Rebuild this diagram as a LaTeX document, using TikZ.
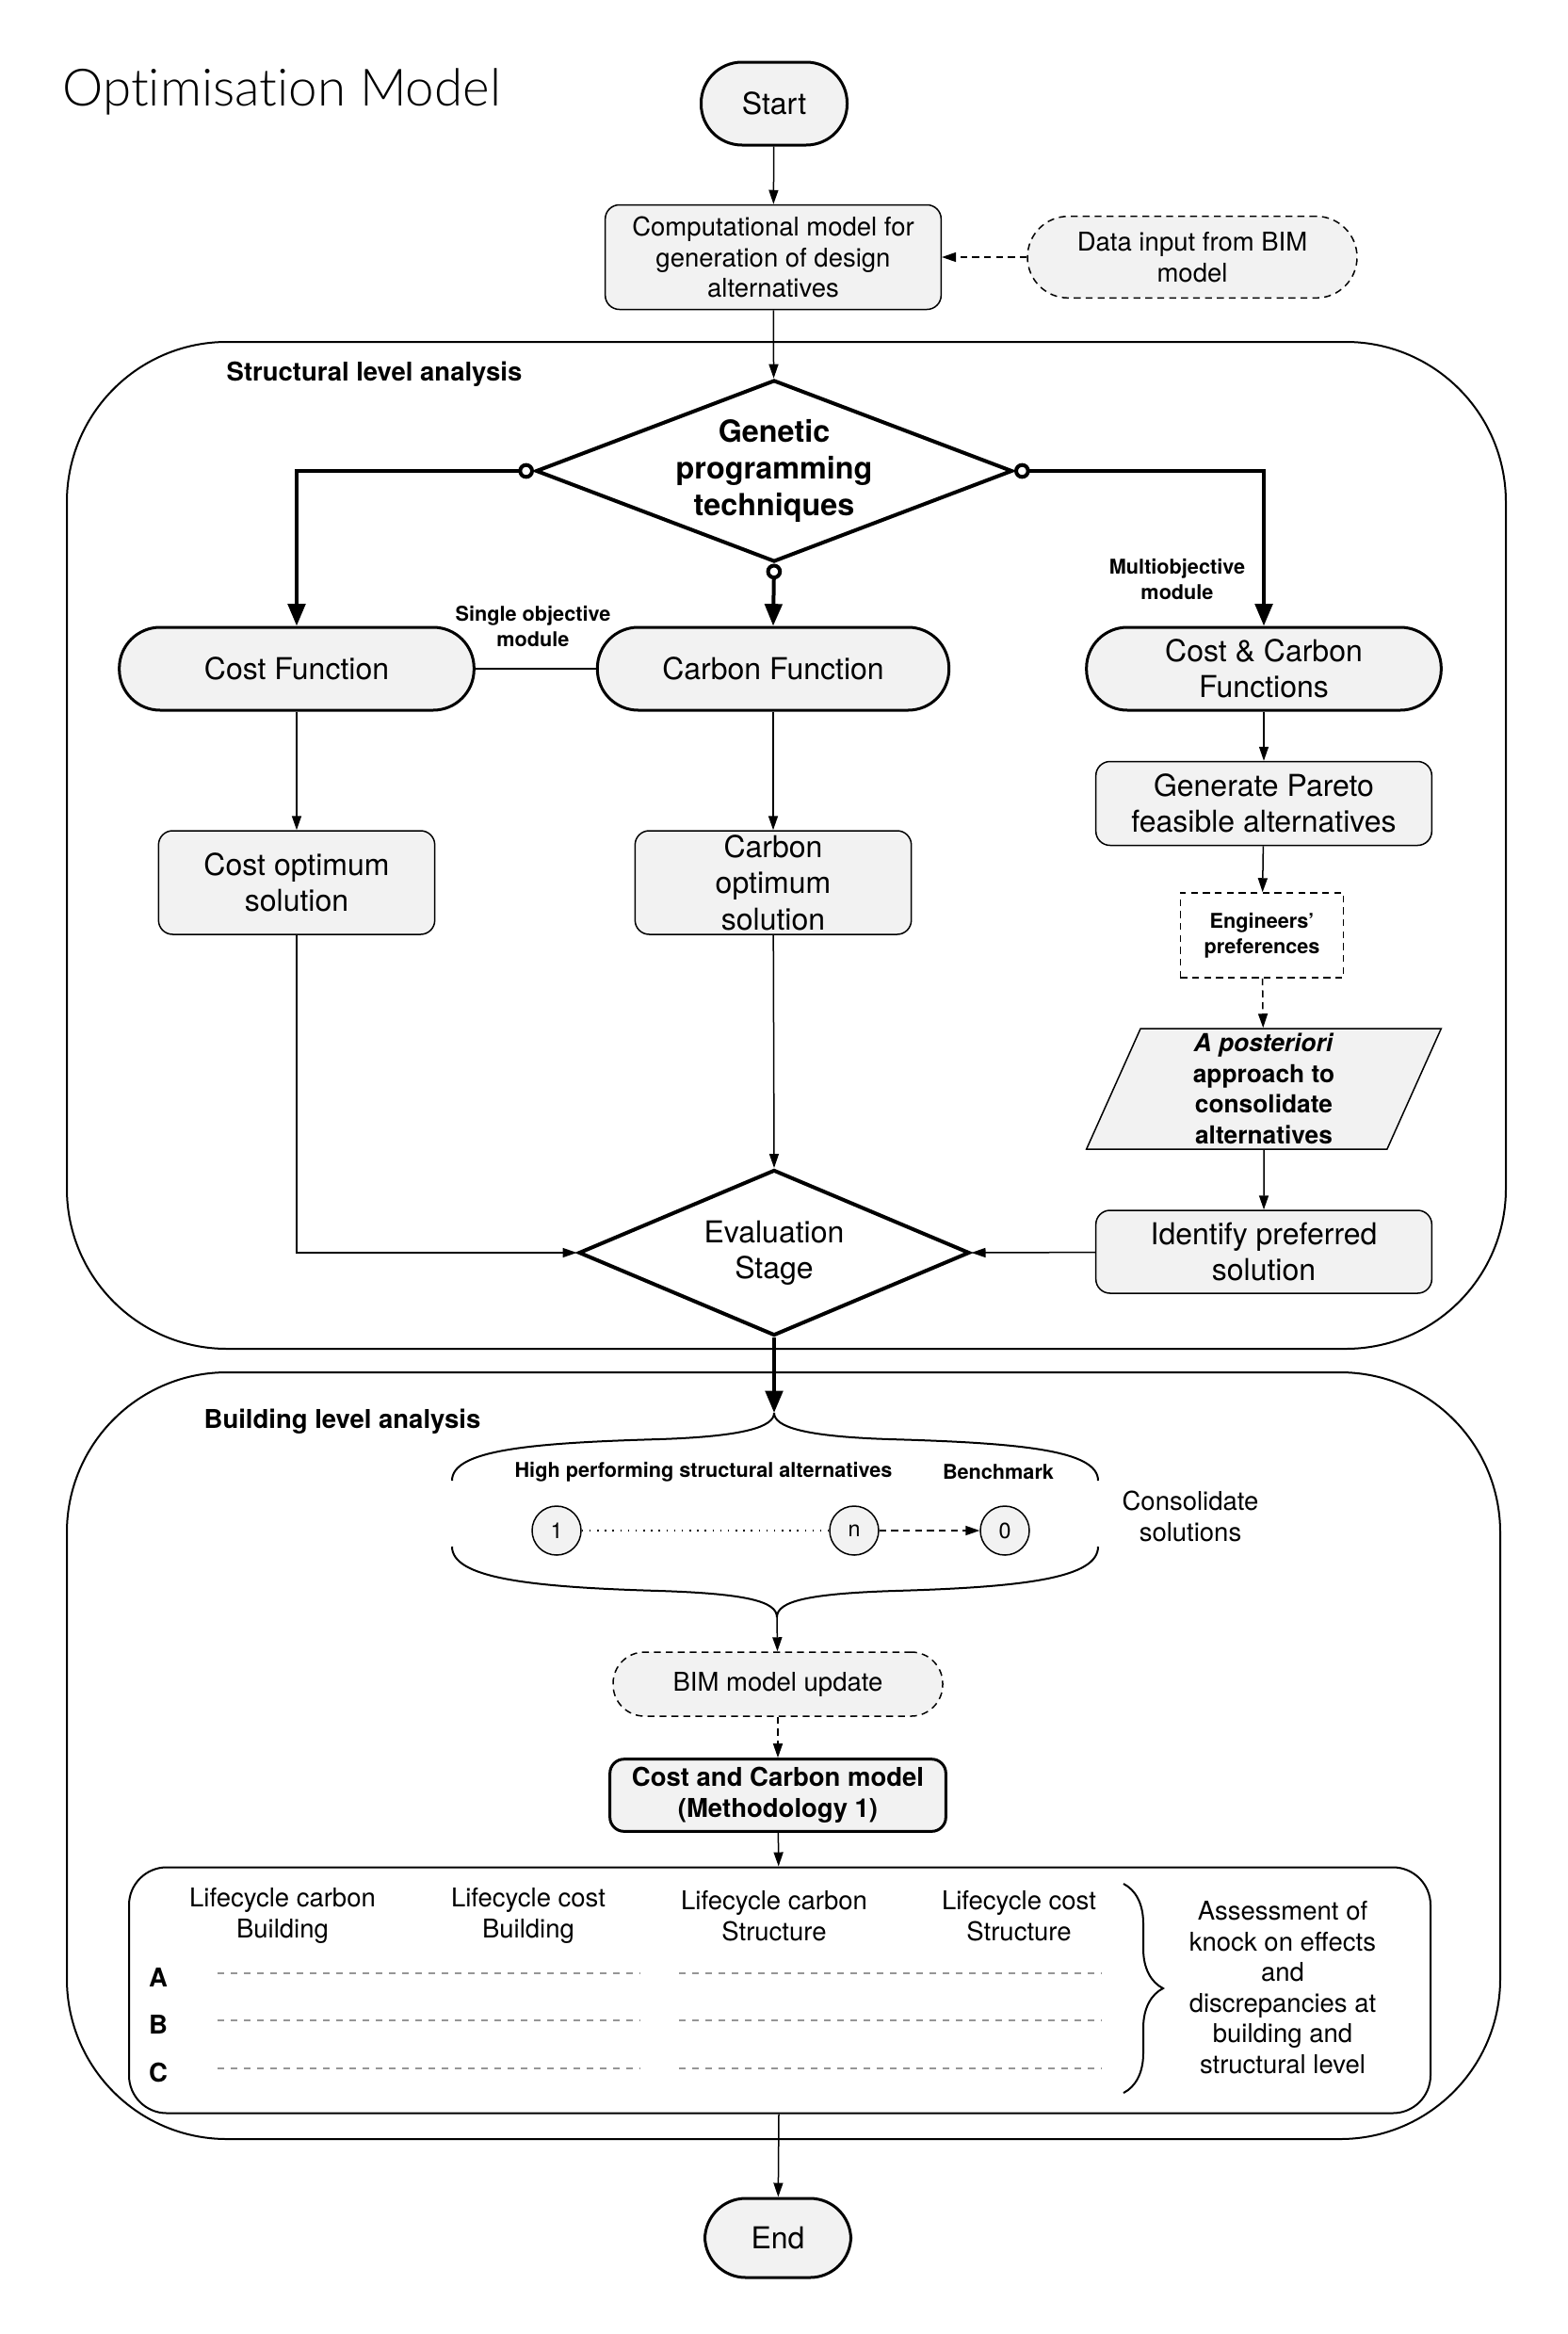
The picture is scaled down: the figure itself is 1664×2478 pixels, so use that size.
\documentclass[tikz,border=0pt]{standalone}
\usepackage{fontspec}
\setmainfont{TeX Gyre Heros}
\newfontfamily\titlefont{Lato Light}[Ligatures=NoCommon]
\usetikzlibrary{shapes.geometric,arrows.meta,decorations.pathreplacing,positioning}

\definecolor{boxgray}{RGB}{242,242,242}
\definecolor{dashgray}{RGB}{150,150,150}
\newcommand\bigtxt{\fontsize{9.6}{11.5}\selectfont}
\newcommand\smalltxt{\fontsize{8.25}{9.75}\selectfont}
\newcommand\tinytxt{\fontsize{6.5}{8}\selectfont}

\tikzset{
  stadium/.style={draw, line width=0.9pt, fill=boxgray, rounded corners=13pt, minimum height=26.4pt, inner sep=0pt, align=center, font=\bigtxt},
  procbox/.style={draw, line width=0.45pt, fill=boxgray, rounded corners=4.5pt, inner sep=0pt, align=center, font=\bigtxt},
  dashbox/.style={draw, line width=0.45pt, dash pattern=on 2.2pt off 1.6pt, fill=boxgray, inner sep=0pt, align=center, font=\smalltxt},
  decision/.style={diamond, draw, line width=1.2pt, fill=white, inner sep=0pt, align=center, font=\bigtxt},
  tinylabel/.style={font=\tinytxt\bfseries, align=center, inner sep=0pt},
  altcircle/.style={circle, draw, line width=0.45pt, fill=boxgray, minimum size=15.6pt, inner sep=0pt, font=\fontsize{7}{8}\selectfont},
  arr/.style={-{Triangle[length=4.5pt,width=3pt]}, line width=0.45pt},
  fatarr/.style={-{Triangle[length=7pt,width=5.5pt]}, line width=1.2pt},
  fork/.style={{Circle[open,length=5pt,width=5pt]}-{Triangle[length=7pt,width=5.5pt]}, line width=1.2pt},
  rowdash/.style={dashgray, line width=0.6pt, dash pattern=on 2.1pt off 2.1pt},
}

\begin{document}
\begin{tikzpicture}[x=0.3pt,y=0.3pt,yscale=-1]
\useasboundingbox (0,0) rectangle (1664,2478);

% Title
\node[anchor=base west, inner sep=0pt, font=\titlefont\fontsize{16.4}{19}\selectfont] (title) at (66,112) {Optimisation Model};

% Frames
\draw[line width=0.6pt, rounded corners=51pt] (71,363) rectangle (1599,1432);
\draw[line width=0.6pt, rounded corners=51pt] (71,1457) rectangle (1593,2271);
\node[anchor=west, inner sep=0pt, font=\smalltxt\bfseries] (structlbl) at (240,397) {Structural level analysis};
\node[anchor=west, inner sep=0pt, font=\smalltxt\bfseries] (buildlbl) at (216,1509) {Building level analysis};

% Top of the flow
\node[stadium, minimum width=46.5pt] (start) at (822,110) {Start};
\node[procbox, minimum width=107pt, minimum height=33.3pt, font=\smalltxt] (comp) at (821,273) {Computational model for\\generation of design\\alternatives};
\node[dashbox, rounded corners=13pt, minimum width=105pt, minimum height=26pt] (bimin) at (1266,273) {Data input from BIM\\model};

% Structural level
\node[decision, aspect=2.62, minimum width=151.8pt, minimum height=57.9pt, font=\fontsize{9.7}{11.6}\selectfont\bfseries] (gp) at (822,500) {Genetic\\programming\\techniques};
\node[stadium, minimum width=113pt] (costf) at (315,710) {Cost Function};
\node[stadium, minimum width=112pt] (carbf) at (821,710) {Carbon Function};
\node[stadium, minimum width=113pt] (ccf) at (1342,710) {Cost \& Carbon\\Functions};
\node[tinylabel] (single) at (566,665) {Single objective\\module};
\node[tinylabel] (multi) at (1250,615) {Multiobjective\\module};

\node[procbox, minimum width=88pt, minimum height=33pt] (costopt) at (315,937) {Cost optimum\\solution};
\node[procbox, minimum width=88pt, minimum height=33pt] (carbopt) at (821,937) {Carbon\\optimum\\solution};
\node[procbox, minimum width=107pt, minimum height=26.7pt] (pareto) at (1342,853) {Generate Pareto\\feasible alternatives};
\node[dashbox, fill=white, minimum width=52pt, minimum height=27pt, font=\tinytxt\bfseries] (engpref) at (1340,993) {Engineers'\\preferences};
\node[trapezium, trapezium left angle=64, trapezium right angle=116, trapezium stretches body, draw, line width=0.45pt, fill=boxgray, minimum width=113pt, minimum height=38.4pt, inner sep=0pt, align=center, font=\fontsize{7.9}{9.8}\selectfont\bfseries] (apost) at (1342,1156) {\textit{A posteriori}\\approach to\\consolidate\\alternatives};
\node[procbox, minimum width=107pt, minimum height=26.4pt] (ident) at (1342,1329) {Identify preferred\\solution};
\node[decision, aspect=2.36, minimum width=124.5pt, minimum height=52.8pt] (eval) at (822,1330) {Evaluation\\Stage};

% Building level
\coordinate (brtop) at (822,1500);
\coordinate (brbot) at (825,1717);
\draw[line width=0.6pt] (480,1572) .. controls (480,1540) and (560,1532) .. (700,1528) .. controls (790,1525) and (822,1515) .. (brtop);
\draw[line width=0.6pt] (1166,1572) .. controls (1166,1540) and (1086,1532) .. (944,1528) .. controls (854,1525) and (822,1515) .. (brtop);
\draw[line width=0.6pt] (480,1642) .. controls (480,1675) and (560,1685) .. (700,1689) .. controls (792,1692) and (825,1700) .. (brbot);
\draw[line width=0.6pt] (1166,1642) .. controls (1166,1675) and (1090,1685) .. (950,1689) .. controls (858,1692) and (825,1700) .. (brbot);

\node[tinylabel] (highperf) at (747,1563) {High performing structural alternatives};
\node[tinylabel] (bench) at (1060,1563) {Benchmark};
\node[altcircle] (c1) at (591,1625) {1};
\node[altcircle] (cn) at (907,1625) {n};
\node[altcircle] (c0) at (1067,1625) {0};
\node[align=center, inner sep=0pt, font=\smalltxt] (consol) at (1264,1610) {Consolidate\\solutions};

\node[dashbox, rounded corners=10pt, minimum width=105pt, minimum height=20.4pt] (bimup) at (826,1788) {BIM model update};
\node[procbox, line width=0.9pt, minimum width=107pt, minimum height=23pt, font=\smalltxt\bfseries] (ccmodel) at (826,1906) {Cost and Carbon model\\(Methodology 1)};

% Results table
\node[draw, line width=0.6pt, rounded corners=12pt, minimum width=414.6pt, minimum height=78.3pt] (tbl) at (828,2113) {};
\node[align=center, inner sep=0pt, font=\smalltxt] (h1) at (300,2034) {Lifecycle carbon\\Building};
\node[align=center, inner sep=0pt, font=\smalltxt] (h2) at (561,2034) {Lifecycle cost\\Building};
\node[align=center, inner sep=0pt, font=\smalltxt] (h3) at (822,2034) {Lifecycle carbon\\Structure};
\node[align=center, inner sep=0pt, font=\smalltxt] (h4) at (1082,2034) {Lifecycle cost\\Structure};
\foreach \r/\y in {A/2099,B/2149,C/2200}{
  \node[inner sep=0pt, font=\smalltxt\bfseries] (row\r) at (168,\y) {\r};
  \draw[rowdash] (231,\y-4) -- (680,\y-4);
  \draw[rowdash] (721,\y-4) -- (1170,\y-4);
}
\draw[line width=0.6pt, decorate, decoration={brace, amplitude=12.6pt}] (1193,2000) -- (1193,2222);
\node[align=center, inner sep=0pt, font=\smalltxt] (assess) at (1362,2110) {Assessment of\\knock on effects\\and\\discrepancies at\\building and\\structural level};

\node[stadium, minimum width=46.5pt, minimum height=25.2pt] (end) at (826,2376) {End};

%Straight Lines
\draw[arr] (start) -- (comp);
\draw[arr, dash pattern=on 2.2pt off 1.6pt] (bimin) -- (comp);
\draw[arr] (comp) -- (gp);
\draw[fork] (gp.west) -| (costf.north);
\draw[fork] (gp.east) -| (ccf.north);
\draw[fork] (gp.south) -- (carbf.north);
\draw[line width=0.45pt] (costf) -- (carbf);
\draw[arr] (costf) -- (costopt);
\draw[arr] (carbf) -- (carbopt);
\draw[arr] (ccf) -- (pareto);
\draw[arr] (pareto) -- (engpref);
\draw[arr, dash pattern=on 2.2pt off 1.6pt] (engpref) -- (apost);
\draw[arr] (apost) -- (ident);
\draw[arr] (costopt.south) |- (eval.west);
\draw[arr] (carbopt) -- (eval.north);
\draw[arr] (ident) -- (eval.east);
\draw[fatarr] (eval.south) -- (brtop);
\draw[line width=0.45pt, dotted] (c1) -- (cn);
\draw[arr, dash pattern=on 2.2pt off 1.6pt] (cn) -- (c0);
\draw[arr] (brbot) -- (bimup);
\draw[arr, dash pattern=on 2.2pt off 1.6pt] (bimup) -- (ccmodel);
\draw[arr] (ccmodel) -- (tbl);
\draw[arr] (tbl) -- (end);

\end{tikzpicture}
\end{document}
